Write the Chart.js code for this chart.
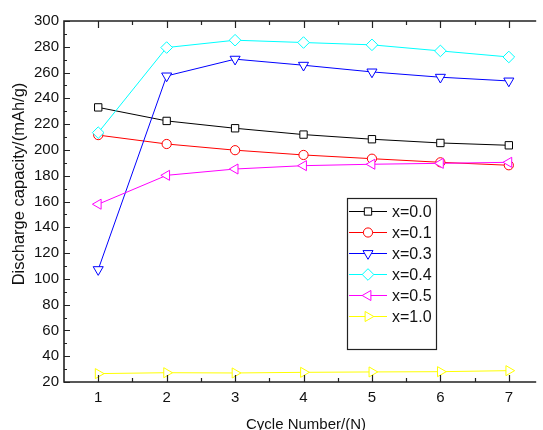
<!DOCTYPE html>
<html lang="en">
<head>
    <meta charset="UTF-8">
    <title>Discharge capacity vs cycle number</title>
    <script src="https://cdn.jsdelivr.net/npm/chart.js"></script>
    <style>
        html, body { margin: 0; padding: 0; background: #fff; }
        canvas { display: block; }
    </style>
</head>
<body>
    <canvas id="capChart" width="543" height="430"></canvas>

    <script>
        // data
        const cycles = [1, 2, 3, 4, 5, 6, 7];
        const cap00 = [233, 222.5, 216.8, 211.9, 208.3, 205.4, 203.6];
        const cap01 = [211.5, 204.6, 199.8, 196.1, 193.2, 190.4, 188.1];
        const cap03 = [107.2, 257.4, 270.4, 265.7, 260.5, 256.4, 253.5];
        const cap04 = [213.4, 279.4, 285.1, 283.3, 281.5, 276.8, 272.1];
        const cap05 = [157.9, 180.3, 185.2, 187.8, 188.9, 189.6, 190.4];
        const cap10 = [26.5, 27.2, 27, 27.5, 27.8, 28, 28.8];

        const seriesNames = ['x=0.0', 'x=0.1', 'x=0.3', 'x=0.4', 'x=0.5', 'x=1.0'];
        const xTicks = [1, 2, 3, 4, 5, 6, 7];
        const yTicks = [20, 40, 60, 80, 100, 120, 140, 160, 180, 200, 220, 240, 260, 280, 300];

        const FONT = '"Liberation Sans", Arial, sans-serif';

        function series(label, values, color, style, rot, r) {
            return {
                label: label,
                data: cycles.map((c, i) => ({ x: c, y: values[i] })),
                borderColor: color,
                borderWidth: 1,
                backgroundColor: '#fff',
                pointStyle: style,
                pointRotation: rot,
                pointRadius: r,
                pointBorderColor: color,
                pointBackgroundColor: '#fff',
                pointBorderWidth: 1,
                tension: 0
            };
        }

        const datasets = [
            series(seriesNames[0], cap00, '#000000', 'rect', 0, 5.2),
            series(seriesNames[1], cap01, '#ff0000', 'circle', 0, 4.6),
            series(seriesNames[2], cap03, '#0000ff', 'triangle', 180, 5.8),
            series(seriesNames[3], cap04, '#00ffff', 'rectRot', 0, 5.8),
            series(seriesNames[4], cap05, '#ff00ff', 'triangle', -90, 5.8),
            series(seriesNames[5], cap10, '#ffff00', 'triangle', 90, 5.8)
        ];
        // Origin draws later series on top
        datasets.forEach((d, i) => d.order = datasets.length - i);

        // frame, inward ticks, axis titles and the boxed legend
        const framePlugin = {
            id: 'frame',
            afterDraw(chart) {
                const ctx = chart.ctx;
                const a = chart.chartArea;
                const xs = chart.scales.x, ys = chart.scales.y;
                ctx.save();

                // frame (right side is off the picture)
                ctx.strokeStyle = '#222';
                ctx.lineWidth = 1.6;
                ctx.beginPath();
                ctx.moveTo(a.right, a.top); ctx.lineTo(a.left, a.top);
                ctx.lineTo(a.left, a.bottom); ctx.lineTo(a.right, a.bottom);
                ctx.stroke();

                // ticks
                ctx.lineWidth = 1.2;
                ctx.beginPath();
                xTicks.forEach(v => {
                    const px = Math.round(xs.getPixelForValue(v)) + 0.5;
                    ctx.moveTo(px, a.bottom); ctx.lineTo(px, a.bottom - 7);
                    ctx.moveTo(px, a.top); ctx.lineTo(px, a.top + 7);
                    const m = Math.round(xs.getPixelForValue(v + 0.5)) + 0.5;
                    if (m < a.right) {
                        ctx.moveTo(m, a.bottom); ctx.lineTo(m, a.bottom - 4);
                        ctx.moveTo(m, a.top); ctx.lineTo(m, a.top + 4);
                    }
                });
                yTicks.forEach(v => {
                    const py = Math.round(ys.getPixelForValue(v)) + 0.5;
                    ctx.moveTo(a.left, py); ctx.lineTo(a.left + 6, py);
                    if (v < 300) {
                        const m = Math.round(ys.getPixelForValue(v + 10)) + 0.5;
                        ctx.moveTo(a.left, m); ctx.lineTo(a.left + 3, m);
                    }
                });
                ctx.stroke();

                // axis titles
                ctx.fillStyle = '#111';
                ctx.textAlign = 'center';
                ctx.textBaseline = 'middle';
                ctx.font = '15px ' + FONT;
                ctx.fillText('Cycle Number/(N)', 306, 424.5);
                ctx.save();
                ctx.translate(19.5, 184);
                ctx.rotate(-Math.PI / 2);
                ctx.font = '16.5px ' + FONT;
                ctx.fillText('Discharge capacity/(mAh/g)', 0, 0);
                ctx.restore();

                // legend box
                const bx = 347, by = 198, bw = 89, bh = 151;
                ctx.fillStyle = '#fff';
                ctx.fillRect(bx, by, bw, bh);
                ctx.strokeStyle = '#222';
                ctx.lineWidth = 1.2;
                ctx.strokeRect(bx + 0.5, by + 0.5, bw, bh);

                ctx.font = '16px ' + FONT;
                ctx.textAlign = 'left';
                chart.data.datasets.forEach((d, i) => {
                    const ry = 211.5 + i * 21;
                    ctx.strokeStyle = d.borderColor;
                    ctx.lineWidth = 1;
                    ctx.beginPath();
                    ctx.moveTo(349, ry); ctx.lineTo(387, ry);
                    ctx.stroke();
                    ctx.fillStyle = '#fff';
                    Chart.helpers.drawPoint(ctx, {
                        pointStyle: d.pointStyle,
                        rotation: d.pointRotation,
                        radius: d.pointRadius,
                        borderWidth: 1
                    }, 368, ry);
                    ctx.fillStyle = '#111';
                    ctx.fillText(d.label, 392, ry + 1);
                });

                ctx.restore();
            }
        };

        new Chart(document.getElementById('capChart').getContext('2d'), {
            type: 'line',
            data: { datasets: datasets },
            options: {
                responsive: false,
                animation: false,
                devicePixelRatio: 1,
                layout: { padding: { left: 0, top: 21, right: 0, bottom: 0 } },
                plugins: {
                    legend: { display: false },
                    tooltip: { enabled: false }
                },
                scales: {
                    x: {
                        type: 'linear',
                        min: 0.5,
                        max: 7.4,
                        grid: { display: false, tickLength: 0 },
                        border: { display: false },
                        afterBuildTicks: s => { s.ticks = xTicks.map(v => ({ value: v })); },
                        afterFit: s => { s.height = 48; },
                        ticks: {
                            font: { size: 15, family: FONT },
                            color: '#111',
                            padding: 7,
                            maxRotation: 0,
                            autoSkip: false
                        }
                    },
                    y: {
                        type: 'linear',
                        min: 20,
                        max: 300,
                        grid: { display: false, tickLength: 0 },
                        border: { display: false },
                        afterBuildTicks: s => { s.ticks = yTicks.map(v => ({ value: v })); },
                        afterFit: s => { s.width = 64; },
                        ticks: {
                            font: { size: 15, family: FONT },
                            color: '#111',
                            padding: 5,
                            autoSkip: false
                        }
                    }
                }
            },
            plugins: [framePlugin]
        });
    </script>
</body>
</html>
